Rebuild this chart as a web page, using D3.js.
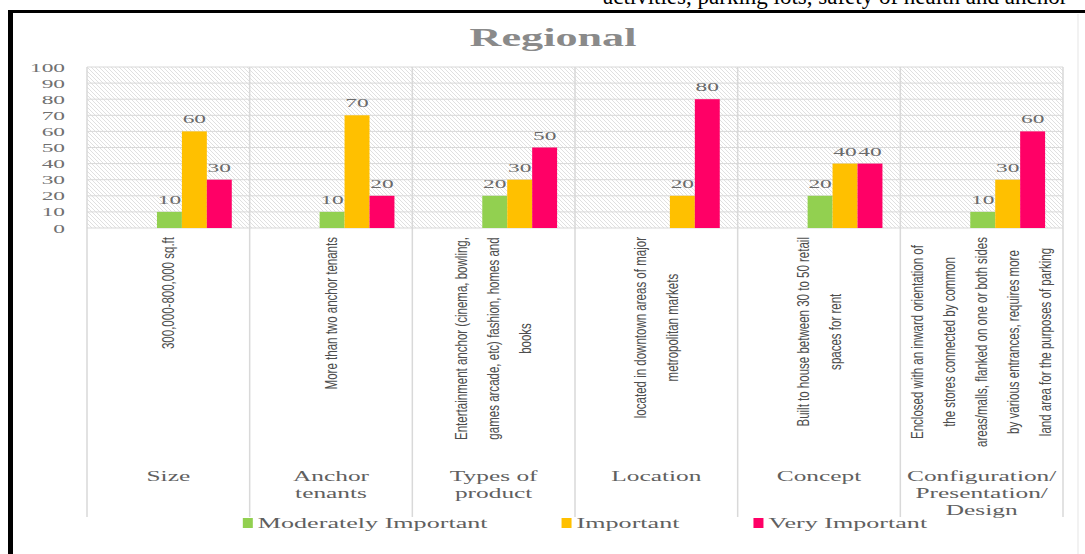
<!DOCTYPE html>
<html>
<head>
<meta charset="utf-8">
<script src="https://cdn.jsdelivr.net/npm/d3@7/dist/d3.min.js"></script>
<style>
  html, body { margin: 0; padding: 0; background: #fff; }
  svg { display: block; }
</style>
</head>
<body>
<svg id="chart" width="1085" height="554"></svg>
<script>
// ---------- data ----------
const categories = ["Size", "Anchor tenants", "Types of product", "Location", "Concept", "Configuration/ Presentation/ Design"];
const categoryLines = [["Size"], ["Anchor", "tenants"], ["Types of", "product"], ["Location"], ["Concept"], ["Configuration/", "Presentation/", "Design"]];
const descriptions = [
  ["300,000-800,000 sq.ft"],
  ["More than two anchor tenants"],
  ["Entertainment anchor (cinema, bowling,", "games arcade, etc) fashion,  homes and", "books"],
  ["located in downtown areas of major", "metropolitan markets"],
  ["Built to house between 30 to 50 retail", "spaces for rent"],
  ["Enclosed with an inward orientation of", "the stores connected by common", "areas/malls, flanked on one or both sides", "by various entrances, requires more", "land area for the purposes of parking"]
];
const seriesNames = ["Moderately Important", "Important", "Very Important"];
const moderatelyImportant = [10, 10, 20, null, 20, 10];
const important = [60, 70, 30, 20, 40, 30];
const veryImportant = [30, 20, 50, 80, 40, 60];
const yTicks = [0, 10, 20, 30, 40, 50, 60, 70, 80, 90, 100];
const chartTitle = "Regional";
const topText = "activities, parking lots, safety of health and anchor";

const seriesValues = [moderatelyImportant, important, veryImportant];
const colors = ["#92d050", "#ffc000", "#ff0066"];

// ---------- layout ----------
const svg = d3.select("#chart");
const plotLeft = 87, plotRight = 1063, plotTop = 67, plotBottom = 228, sepBottom = 517;
const SX = 1.8; // horizontal stretch of serif text
const serif = "'Liberation Serif', 'Times New Roman', serif";

const x0 = d3.scaleBand().domain(categories).range([plotLeft, plotRight]).padding(0);
const bw = x0.bandwidth();
const x1 = d3.scaleBand().domain(seriesNames).range([bw * 0.43, bw * 0.89]).padding(0);
const y = d3.scaleLinear().domain([0, 100]).range([plotBottom, plotTop]);

function stretchedText(g, x, yy, txt, opts) {
  const t = g.append("g").attr("transform", `translate(${x},${yy}) scale(${opts.sx || SX},1)`)
    .append("text")
    .attr("text-anchor", opts.anchor || "middle")
    .attr("font-family", opts.family || serif)
    .attr("font-size", opts.size || 15)
    .attr("font-weight", opts.weight || "normal")
    .attr("fill", opts.fill || "#595959")
    .text(txt);
  return t;
}

// frame
svg.append("rect").attr("x", 8).attr("y", 10).attr("width", 1077).attr("height", 3).attr("fill", "#000");
svg.append("rect").attr("x", 8).attr("y", 10).attr("width", 5).attr("height", 544).attr("fill", "#000");
svg.append("line").attr("x1", 1078).attr("x2", 1078).attr("y1", 14).attr("y2", 554).attr("stroke", "#eeeeee").attr("stroke-width", 1.5);

// top text, cut by the frame edge as in the source image
svg.append("text").attr("x", 603).attr("y", 4).attr("font-family", serif).attr("font-size", 23)
  .attr("fill", "#000").text(topText);

// title
stretchedText(svg, 553, 46, chartTitle, { size: 26, weight: "bold", fill: "#8a8a8a", sx: 1.7 });

// hatch pattern
const defs = svg.append("defs");
const pat = defs.append("pattern").attr("id", "hatch").attr("patternUnits", "userSpaceOnUse")
  .attr("width", 4).attr("height", 4);
pat.append("rect").attr("width", 4).attr("height", 4).attr("fill", "#ffffff");
pat.append("path").attr("d", "M-1,-1 L5,5 M-1,3 L1,5 M3,-1 L5,1").attr("stroke", "#dcdcdc").attr("stroke-width", 0.9);

svg.append("rect").attr("x", plotLeft).attr("y", plotTop).attr("width", plotRight - plotLeft)
  .attr("height", plotBottom - plotTop).attr("fill", "url(#hatch)");

// gridlines
svg.append("g").selectAll("line").data(yTicks).join("line")
  .attr("x1", plotLeft).attr("x2", plotRight)
  .attr("y1", d => y(d)).attr("y2", d => y(d))
  .attr("stroke", "#d9d9d9").attr("stroke-width", 1);

// vertical separators
const seps = categories.map(c => x0(c)).concat([plotRight]);
svg.append("g").selectAll("line").data(seps).join("line")
  .attr("x1", d => d).attr("x2", d => d)
  .attr("y1", plotTop).attr("y2", sepBottom)
  .attr("stroke", "#d9d9d9").attr("stroke-width", 1.5);

// y tick labels
const yg = svg.append("g");
yTicks.forEach(t => {
  stretchedText(yg, 65, y(t) + 4.5, String(t), { size: 13, anchor: "end", fill: "#707070" });
});

// bars
const barData = [];
categories.forEach((c, i) => {
  seriesNames.forEach((s, j) => {
    const v = seriesValues[j][i];
    if (v !== null && v !== undefined) barData.push({ c, s, v, color: colors[j] });
  });
});
svg.append("g").selectAll("rect").data(barData).join("rect")
  .attr("x", d => x0(d.c) + x1(d.s))
  .attr("y", d => y(d.v))
  .attr("width", x1.bandwidth())
  .attr("height", d => y(0) - y(d.v))
  .attr("fill", d => d.color);

// data labels
const lg = svg.append("g");
barData.forEach(d => {
  stretchedText(lg, x0(d.c) + x1(d.s) + x1.bandwidth() / 2, y(d.v) - 8, String(d.v), { size: 13, fill: "#6a6a6a" });
});

// rotated descriptions
const sans = "'Liberation Sans', Arial, sans-serif";
const RS = 0.72;
descriptions.forEach((lines, i) => {
  const cx = x0(categories[i]) + bw / 2;
  const g = svg.append("g");
  const inner = g.append("g");
  const texts = lines.map((ln, k) => inner.append("text")
    .attr("x", 0)
    .attr("y", (k - (lines.length - 1) / 2) * 32)
    .attr("dy", "0.35em")
    .attr("text-anchor", "middle")
    .attr("font-family", sans)
    .attr("font-size", 16)
    .attr("fill", "#4d4d4d")
    .text(ln));
  const maxLen = d3.max(texts, t => t.node().getComputedTextLength()) * RS;
  const cy = 237 + maxLen / 2;
  inner.attr("transform", `translate(${cx},${cy}) rotate(-90) scale(${RS},1)`);
});

// category names
const cg = svg.append("g");
categoryLines.forEach((lines, i) => {
  const cx = x0(categories[i]) + bw / 2;
  lines.forEach((ln, k) => {
    stretchedText(cg, cx, 481 + k * 17, ln, { size: 14.5, fill: "#606060", sx: 1.75 });
  });
});

// legend
const legG = svg.append("g");
const items = [];
let cursor = 0;
seriesNames.forEach((s, j) => {
  const it = legG.append("g");
  it.append("rect").attr("x", 0).attr("y", -5).attr("width", 10).attr("height", 10).attr("fill", colors[j]);
  const t = it.append("g").attr("transform", `translate(15,5) scale(1.8,1)`).append("text")
    .attr("font-family", serif).attr("font-size", 14.5).attr("fill", "#606060").text(s);
  const w = 15 + t.node().getComputedTextLength() * 1.8;
  items.push({ it, x: cursor });
  cursor += w + 74;
});
const total = cursor - 74;
const startX = 585 - total / 2;
items.forEach(d => d.it.attr("transform", `translate(${startX + d.x},523)`));
</script>
</body>
</html>
